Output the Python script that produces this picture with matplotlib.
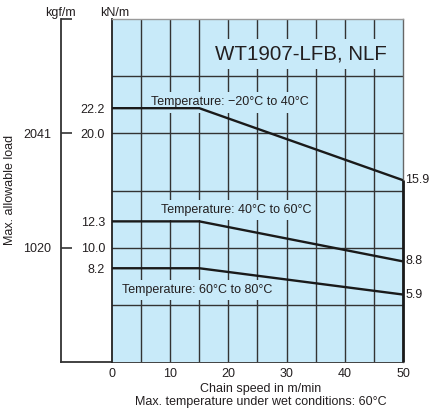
import matplotlib
matplotlib.use('Agg')
import matplotlib.pyplot as plt

plt.rcParams['font.family'] = ['Liberation Sans', 'DejaVu Sans']

# chain speed (m/min) and max allowable load (kN/m) per temperature range
speed = [0, 15, 50]
load_low = [22.2, 22.2, 15.9]    # -20 to 40 C
load_mid = [12.3, 12.3, 8.8]     # 40 to 60 C
load_high = [8.2, 8.2, 5.9]      # 60 to 80 C
temp_labels = ['Temperature: \u221220\u00b0C to 40\u00b0C',
               'Temperature: 40\u00b0C to 60\u00b0C',
               'Temperature: 60\u00b0C to 80\u00b0C']
knm_ticks = [8.2, 10.0, 12.3, 20.0, 22.2]
kgf_ticks = [10, 20]
kgf_labels = ['1020', '2041']
x_ticks = [0, 10, 20, 30, 40, 50]

blue = '#c8eaf9'
txt = '#231f20'
W, H = 431, 415

fig = plt.figure(figsize=(W / 100, H / 100), dpi=100)
l, r, t, b = 112, 403, 19, 362
rect = [l / W, 1 - b / H, (r - l) / W, (b - t) / H]

# kgf/m axis on the far left
ax2 = fig.add_axes([61 / W, rect[1], (r - 61) / W, rect[3]])
ax2.set_facecolor('none')
ax2.set_ylim(0, 30)
ax2.set_xlim(0, 1)
for s in ['top', 'right']:
    ax2.spines[s].set_visible(False)
for s in ['left', 'bottom']:
    ax2.spines[s].set_color('#333333')
    ax2.spines[s].set_linewidth(1.3)
ax2.set_xticks([])
ax2.set_yticks(kgf_ticks + [30])
ax2.set_yticklabels(kgf_labels + [''])
ax2.tick_params(axis='y', direction='in', length=8, width=1.2, color='#333333',
                pad=7, labelsize=9, labelcolor=txt)

ax = fig.add_axes(rect)
ax.set_facecolor(blue)
ax.set_xlim(0, 50)
ax.set_ylim(0, 30)
ax.set_xticks(x_ticks)
ax.set_yticks(knm_ticks)
ax.set_yticklabels(['%.1f' % v for v in knm_ticks])
ax.tick_params(length=0, labelsize=9, labelcolor=txt)
ax.tick_params(axis='y', pad=5)
ax.tick_params(axis='x', pad=4.5)

# grid every 5
for v in range(5, 50, 5):
    ax.axvline(v, color='#333333', lw=1.0, zorder=1)
for v in range(5, 30, 5):
    ax.axhline(v, color='#333333', lw=1.0, zorder=1)

ax.spines['top'].set_color('#9a9a9a')
ax.spines['top'].set_linewidth(1.0)
ax.spines['right'].set_color('#666666')
ax.spines['right'].set_linewidth(1.0)
ax.spines['left'].set_color('#222222')
ax.spines['left'].set_linewidth(1.3)
ax.spines['bottom'].set_visible(False)

for ys in [load_low, load_mid, load_high]:
    ax.plot(speed, ys, color='#1a1a1a', lw=1.7, zorder=5, solid_capstyle='butt')
    ax.annotate('%.1f' % ys[-1], (speed[-1], ys[-1]), xytext=(1.5, 0),
                textcoords='offset points', ha='left', va='center',
                fontsize=9, color=txt, annotation_clip=False)

# thick right edge below upper curve end
ax.plot([speed[-1], speed[-1]], [0, load_low[-1]], color='#1a1a1a', lw=2.0,
        zorder=6, clip_on=False, solid_capstyle='butt')

box = dict(facecolor=blue, edgecolor='none', pad=3)
ax.text(20.3, 22.7, temp_labels[0], ha='center', va='center', fontsize=9,
        color=txt, bbox=box, zorder=3)
ax.text(21.3, 13.3, temp_labels[1], ha='center', va='center', fontsize=9,
        color=txt, bbox=box, zorder=3)
ax.text(14.7, 6.3, temp_labels[2], ha='center', va='center', fontsize=9,
        color=txt, bbox=box, zorder=3)
ax.text(32.45, 26.95, 'WT1907-LFB, NLF', ha='center', va='center',
        fontsize=14.8, color=txt, bbox=dict(facecolor=blue, edgecolor='none', pad=4),
        zorder=3)

fig.text(60 / W, 1 - 13 / H, 'kgf/m', ha='center', va='center', fontsize=9, color=txt)
fig.text(115 / W, 1 - 13 / H, 'kN/m', ha='center', va='center', fontsize=9, color=txt)
fig.text(10 / W, 1 - 190 / H, 'Max. allowable load', rotation=90,
         ha='center', va='center', fontsize=9, color=txt)
fig.text(261 / W, 1 - 389 / H, 'Chain speed in m/min', ha='center', va='center',
         fontsize=9, color=txt)
fig.text(261 / W, 1 - 401.5 / H, 'Max. temperature under wet conditions: 60\u00b0C',
         ha='center', va='center', fontsize=9, color=txt)

fig.savefig('out.png', dpi=100)
